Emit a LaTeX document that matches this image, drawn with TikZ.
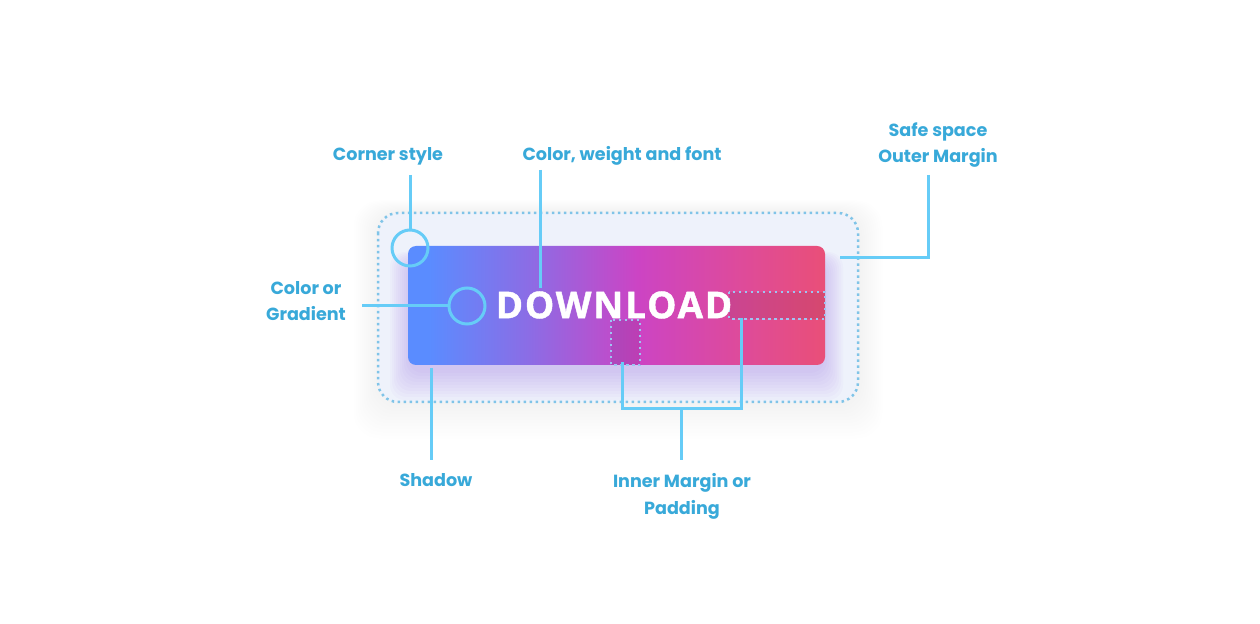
\documentclass[tikz,border=0pt]{standalone}
\usepackage{fontspec}
\setsansfont{Poppins}
\newfontfamily\btnfont[LetterSpace=5,BoldFeatures={FakeBold=1.2}]{Open Sans}
\definecolor{labelblue}{HTML}{38A9D9}
\definecolor{lineblue}{HTML}{66CCF7}
\definecolor{dotblue}{HTML}{80C4E8}
\definecolor{padblue}{HTML}{9EC4F2}
\definecolor{safefill}{HTML}{EEF2FB}
\definecolor{glowpink}{HTML}{EBD5F2}
\definecolor{shadowpurple}{HTML}{9C6FE6}
\definecolor{btnblue}{HTML}{5A8CFF}
\definecolor{btnviolet}{HTML}{8E6BE4}
\definecolor{btnmagenta}{HTML}{CC44C4}
\definecolor{btnrose}{HTML}{DE4B9A}
\definecolor{btnpink}{HTML}{E94F78}
\pgfdeclarehorizontalshading{btngrad}{100bp}{color(0bp)=(btnblue); color(27.5bp)=(btnblue); color(40bp)=(btnviolet); color(52.5bp)=(btnmagenta); color(65bp)=(btnrose); color(75bp)=(btnpink); color(100bp)=(btnpink)}
\begin{document}
\begin{tikzpicture}[x=0.02cm,y=-0.02cm,
    note/.style={font=\sffamily\bfseries\fontsize{10}{15.3}\selectfont, text=labelblue, align=center, inner sep=0},
    lead/.style={lineblue, line width=0.06cm},
    ring/.style={circle, draw=lineblue, line width=0.06cm, minimum size=0.72cm, inner sep=0},
    dots/.style={line width=0.05cm, dash pattern=on 0.05cm off 0.07cm},
    btntext/.style={font=\btnfont\bfseries\fontsize{21}{25}\selectfont, text=white, inner sep=0}]
\useasboundingbox[fill=white] (0,0) rectangle (1260,624);

% safe space with its glow
\foreach \i in {1,...,12}
    \fill[glowpink, opacity=0.025, rounded corners=0.5cm] (378-2*\i,213-\i) rectangle (858+2*\i,402+3*\i);
\fill[safefill, rounded corners=0.4cm] (378,213) rectangle (858,402);
\foreach \i in {1,...,10}
    \fill[shadowpurple, opacity=0.035, rounded corners=0.3cm] (410-2*\i,262-\i) rectangle (823+2*\i,370+3*\i);
\draw[dotblue, dots, rounded corners=0.4cm] (378,213) rectangle (858,402);

% button
\shade[shading=btngrad, rounded corners=0.16cm] (408,246) rectangle (825,365);
\filldraw[padblue, dots, fill=black, fill opacity=0.08] (611,320) rectangle (640,365);
\filldraw[padblue, dots, fill=black, fill opacity=0.08] (729,292) rectangle (825,319);
\node[btntext] (dl) at (614,305) {DOWNLOAD};

% rings
\node[ring] (corner) at (410,248) {};
\node[ring] (grad) at (467,306) {};

% labels
\node[note, anchor=base] (cornerlbl) at (388,161) {Corner style};
\node[note, anchor=base] (fontlbl) at (622,161) {Color, weight and font};
\node[note, anchor=base] (safelbl) at (938,163) {Safe space\\Outer Margin};
\node[note, anchor=base] (gradlbl) at (306,321) {Color or\\Gradient};
\node[note, anchor=base] (shadowlbl) at (436,486) {Shadow};
\node[note, anchor=base] (padlbl) at (682,514) {Inner Margin or\\Padding};

% leads
\coordinate (cornertop) at (410,175);
\coordinate (fonttop) at (540,170);
\coordinate (fontend) at (540,288);
\coordinate (safetop) at (928,175);
\coordinate (safeend) at (840,258);
\coordinate (gradend) at (362,306);
\coordinate (shadowtop) at (431,368);
\coordinate (shadowend) at (431,460);
\coordinate (padleft) at (622,362);
\coordinate (padright) at (741,318);
\coordinate (padmid) at (681,409);
\coordinate (padend) at (681,460);
\draw[lead] (cornertop) -- (corner.north);
\draw[lead] (fonttop) -- (fontend);
\draw[lead] (safetop) |- (safeend);
\draw[lead] (gradend) -- (grad.west);
\draw[lead] (shadowtop) -- (shadowend);
\draw[lead] (padleft) |- (padmid) -| (padright);
\draw[lead] (padmid) -- (padend);
\end{tikzpicture}
\end{document}
